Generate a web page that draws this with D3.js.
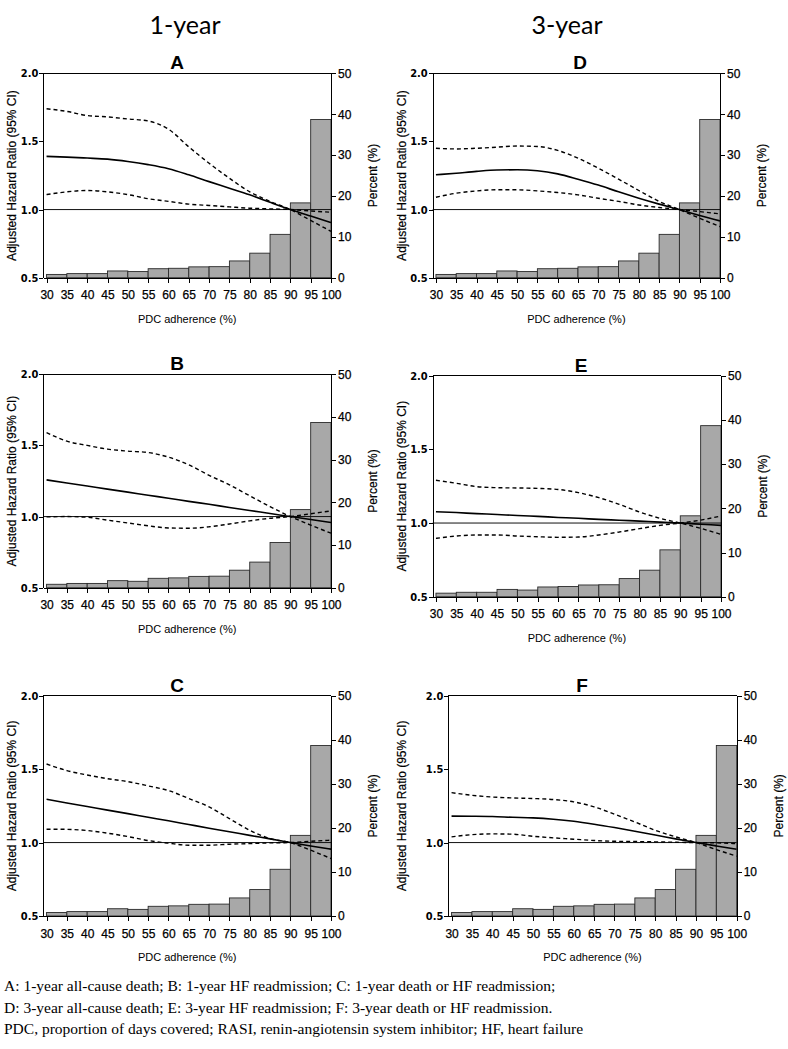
<!DOCTYPE html>
<html>
<head>
<meta charset="utf-8">
<script src="https://cdn.jsdelivr.net/npm/d3@7"></script>
<style>
  html, body { margin: 0; padding: 0; background: #fff; }
  svg { display: block; }
  .ax text { font-family: "Liberation Sans", Arial, sans-serif; fill: #000; stroke: #000; stroke-width: 0.25px; }
  .ax path, .ax line { stroke: #000; stroke-width: 1; shape-rendering: crispEdges; }
</style>
</head>
<body>
<svg id="chart" width="788" height="1049"></svg>
<script>
// ---------- data ----------
const pdcTicks = [30, 35, 40, 45, 50, 55, 60, 65, 70, 75, 80, 85, 90, 95, 100];
const binStarts = [30, 35, 40, 45, 50, 55, 60, 65, 70, 75, 80, 85, 90, 95];
const binPercent = [0.8, 1.0, 1.0, 1.65, 1.5, 2.2, 2.3, 2.65, 2.7, 4.1, 6.0, 10.6, 18.3, 38.7];
const hrTicks = [0.5, 1.0, 1.5, 2.0];
const pctTicks = [0, 10, 20, 30, 40, 50];

// A: 1-year all-cause death
const hrA = [1.39, 1.385, 1.378, 1.37, 1.353, 1.33, 1.30, 1.255, 1.205, 1.157, 1.108, 1.053, 1.0, 0.952, 0.905];
const hiA = [1.74, 1.72, 1.69, 1.68, 1.665, 1.65, 1.59, 1.46, 1.34, 1.23, 1.13, 1.06, 1.0, 0.92, 0.84];
const loA = [1.11, 1.13, 1.14, 1.13, 1.11, 1.08, 1.06, 1.04, 1.03, 1.02, 1.01, 1.005, 1.0, 0.99, 0.98];
// B: 1-year HF readmission
const hrB = [1.258, 1.236, 1.215, 1.193, 1.172, 1.15, 1.129, 1.107, 1.086, 1.064, 1.043, 1.021, 1.0, 0.979, 0.958];
const hiB = [1.59, 1.53, 1.50, 1.474, 1.46, 1.45, 1.418, 1.364, 1.29, 1.223, 1.146, 1.07, 1.0, 0.94, 0.883];
const loB = [0.998, 1.0, 0.995, 0.975, 0.955, 0.935, 0.92, 0.918, 0.928, 0.948, 0.97, 0.988, 1.0, 1.02, 1.04];
// C: 1-year death or HF readmission
const hrC = [1.295, 1.27, 1.246, 1.221, 1.197, 1.172, 1.148, 1.123, 1.098, 1.074, 1.049, 1.025, 1.0, 0.977, 0.955];
const hiC = [1.535, 1.49, 1.46, 1.435, 1.415, 1.386, 1.354, 1.30, 1.243, 1.163, 1.084, 1.027, 1.0, 0.948, 0.891];
const loC = [1.091, 1.09, 1.082, 1.064, 1.041, 1.014, 0.996, 0.982, 0.982, 0.989, 0.993, 0.998, 1.0, 1.009, 1.016];
// D: 3-year all-cause death
const hrD = [1.255, 1.267, 1.28, 1.29, 1.292, 1.285, 1.262, 1.223, 1.18, 1.13, 1.083, 1.04, 1.0, 0.956, 0.917];
const hiD = [1.45, 1.445, 1.45, 1.458, 1.466, 1.463, 1.434, 1.377, 1.304, 1.223, 1.14, 1.06, 1.0, 0.936, 0.875];
const loD = [1.09, 1.12, 1.137, 1.145, 1.145, 1.137, 1.125, 1.108, 1.083, 1.06, 1.034, 1.015, 1.0, 0.985, 0.968];
// E: 3-year HF readmission
const hrE = [1.077, 1.071, 1.064, 1.058, 1.051, 1.045, 1.038, 1.032, 1.025, 1.019, 1.013, 1.006, 1.0, 0.992, 0.984];
const hiE = [1.29, 1.27, 1.247, 1.24, 1.238, 1.235, 1.228, 1.206, 1.172, 1.127, 1.075, 1.032, 1.0, 0.964, 0.923];
const loE = [0.896, 0.912, 0.919, 0.919, 0.912, 0.907, 0.903, 0.905, 0.919, 0.939, 0.962, 0.984, 1.0, 1.02, 1.048];
// F: 3-year death or HF readmission
const hrF = [1.18, 1.179, 1.177, 1.172, 1.168, 1.159, 1.145, 1.125, 1.102, 1.077, 1.052, 1.025, 1.0, 0.977, 0.955];
const hiF = [1.34, 1.322, 1.31, 1.304, 1.30, 1.293, 1.277, 1.243, 1.193, 1.14, 1.084, 1.039, 1.0, 0.952, 0.907];
const loF = [1.039, 1.054, 1.059, 1.057, 1.043, 1.032, 1.023, 1.014, 1.009, 1.007, 1.005, 1.002, 1.0, 0.998, 0.993];

const columnTitles = ["1-year", "3-year"];
const footnotes = [
  "A: 1-year all-cause death; B: 1-year HF readmission; C: 1-year death or HF readmission;",
  "D: 3-year all-cause death; E: 3-year HF readmission; F: 3-year death or HF readmission.",
  "PDC, proportion of days covered; RASI, renin-angiotensin system inhibitor; HF, heart failure"
];

// ---------- layout ----------
const panels = [
  { id: "A", hr: hrA, hi: hiA, lo: loA, l: 43.3, r: 331, t: 73.3, b: 277.7, tx: 177, ylx: 12 },
  { id: "B", hr: hrB, hi: hiB, lo: loB, l: 43.3, r: 331, t: 374.3, b: 587.7, tx: 177, ylx: 12 },
  { id: "C", hr: hrC, hi: hiC, lo: loC, l: 43.3, r: 331, t: 695.7, b: 916, tx: 177, ylx: 12 },
  { id: "D", hr: hrD, hi: hiD, lo: loD, l: 432.7, r: 720, t: 73.3, b: 277.7, tx: 580, ylx: 402 },
  { id: "E", hr: hrE, hi: hiE, lo: loE, l: 432.7, r: 721, t: 375.7, b: 596.7, tx: 581, ylx: 402 },
  { id: "F", hr: hrF, hi: hiF, lo: loF, l: 448.3, r: 736.7, t: 695.7, b: 916, tx: 582, ylx: 402 }
];

const svg = d3.select("#chart");
svg.append("rect").attr("width", 788).attr("height", 1049).attr("fill", "#fff");

// column titles
svg.selectAll("text.coltitle").data(columnTitles).enter().append("text")
  .attr("class", "coltitle")
  .attr("x", (d, i) => i === 0 ? 185 : 567)
  .attr("y", 34)
  .attr("text-anchor", "middle")
  .style("font-family", "Lato, 'Open Sans', sans-serif")
  .style("font-size", "25px")
  .text(d => d);

panels.forEach((p, pi) => {
  const g = svg.append("g");
  const x = d3.scaleLinear().domain([29.2, 100]).range([p.l, p.r]);
  const yL = d3.scaleLinear().domain([0.5, 2.0]).range([p.b, p.t]);
  const yR = d3.scaleLinear().domain([0, 50]).range([p.b, p.t]);

  // bars
  g.selectAll("rect.bar").data(binStarts).enter().append("rect")
    .attr("class", "bar")
    .attr("x", d => x(d))
    .attr("width", d => x(d + 5) - x(d))
    .attr("y", (d, i) => yR(binPercent[i]))
    .attr("height", (d, i) => p.b - yR(binPercent[i]))
    .attr("fill", "#a8a8a8")
    .attr("stroke", "#2a2a2a")
    .attr("stroke-width", 0.9);

  // reference line at HR = 1
  g.append("line")
    .attr("x1", p.l).attr("x2", p.r)
    .attr("y1", yL(1)).attr("y2", yL(1))
    .attr("stroke", "#111").attr("stroke-width", 1);

  // curves
  const clipId = "clip" + p.id;
  g.append("clipPath").attr("id", clipId).append("rect")
    .attr("x", p.l).attr("y", p.t).attr("width", p.r - p.l).attr("height", p.b - p.t);
  const line = d3.line().x((d, i) => x(pdcTicks[i])).y(d => yL(d)).curve(d3.curveMonotoneX);
  const cg = g.append("g").attr("clip-path", `url(#${clipId})`);
  [p.hi, p.lo].forEach(arr => {
    cg.append("path").datum(arr).attr("d", line)
      .attr("fill", "none").attr("stroke", "#000")
      .attr("stroke-width", 1.4).attr("stroke-dasharray", "4,3");
  });
  cg.append("path").datum(p.hr).attr("d", line)
    .attr("fill", "none").attr("stroke", "#000").attr("stroke-width", 1.6);

  // frame top line
  g.append("line").attr("x1", p.l).attr("x2", p.r).attr("y1", p.t).attr("y2", p.t)
    .attr("stroke", "#000").attr("stroke-width", 1).style("shape-rendering", "crispEdges");

  // axes
  const ax = g.append("g").attr("class", "ax").attr("transform", `translate(0,${p.b})`)
    .call(d3.axisBottom(x).tickValues(pdcTicks).tickSize(5).tickSizeOuter(0).tickPadding(8));
  ax.selectAll("text").style("font-size", "12px");

  const ayl = g.append("g").attr("class", "ax").attr("transform", `translate(${p.l},0)`)
    .call(d3.axisLeft(yL).tickValues(hrTicks).tickFormat(d3.format(".1f")).tickSize(4).tickSizeOuter(0).tickPadding(1));
  ayl.selectAll("text").style("font-size", "11px").style("font-weight", "bold").style("stroke-width", "0")
    .style("font-family", "'Liberation Sans Narrow', 'DejaVu Sans Condensed', 'Liberation Sans', Arial, sans-serif");

  const ayr = g.append("g").attr("class", "ax").attr("transform", `translate(${p.r},0)`)
    .call(d3.axisRight(yR).tickValues(pctTicks).tickSize(5).tickSizeOuter(0).tickPadding(2));
  ayr.selectAll("text").style("font-size", "12px");

  // axis titles
  const cy = (p.t + p.b) / 2;
  g.append("text")
    .attr("transform", `translate(${p.ylx},${cy}) rotate(-90)`)
    .attr("text-anchor", "middle").attr("dominant-baseline", "central")
    .style("font-family", "'Liberation Sans', Arial, sans-serif").style("font-size", "12px")
    .style("stroke", "#000").style("stroke-width", "0.2px")
    .text("Adjusted Hazard Ratio (95% CI)");
  g.append("text")
    .attr("transform", `translate(${p.r + 42},${cy}) rotate(-90)`)
    .attr("text-anchor", "middle").attr("dominant-baseline", "central")
    .style("font-family", "'Liberation Sans', Arial, sans-serif").style("font-size", "12px")
    .style("stroke", "#000").style("stroke-width", "0.2px")
    .text("Percent (%)");
  g.append("text")
    .attr("x", (p.l + p.r) / 2).attr("y", p.b + 45)
    .attr("text-anchor", "middle")
    .style("font-family", "'Liberation Sans', Arial, sans-serif").style("font-size", "11px")
    .text("PDC adherence (%)");

  // panel letter
  g.append("text")
    .attr("x", p.tx).attr("y", p.t - 4)
    .attr("text-anchor", "middle")
    .style("font-family", "'Liberation Sans', Arial, sans-serif").style("font-size", "19px")
    .style("font-weight", "bold")
    .text(p.id);
});

// footnotes
svg.selectAll("text.foot").data(footnotes).enter().append("text")
  .attr("class", "foot")
  .attr("x", 4)
  .attr("y", (d, i) => 991 + i * 21.5)
  .style("font-family", "'Liberation Serif', 'Times New Roman', serif")
  .style("font-size", "15.5px")
  .text(d => d);
</script>
</body>
</html>
